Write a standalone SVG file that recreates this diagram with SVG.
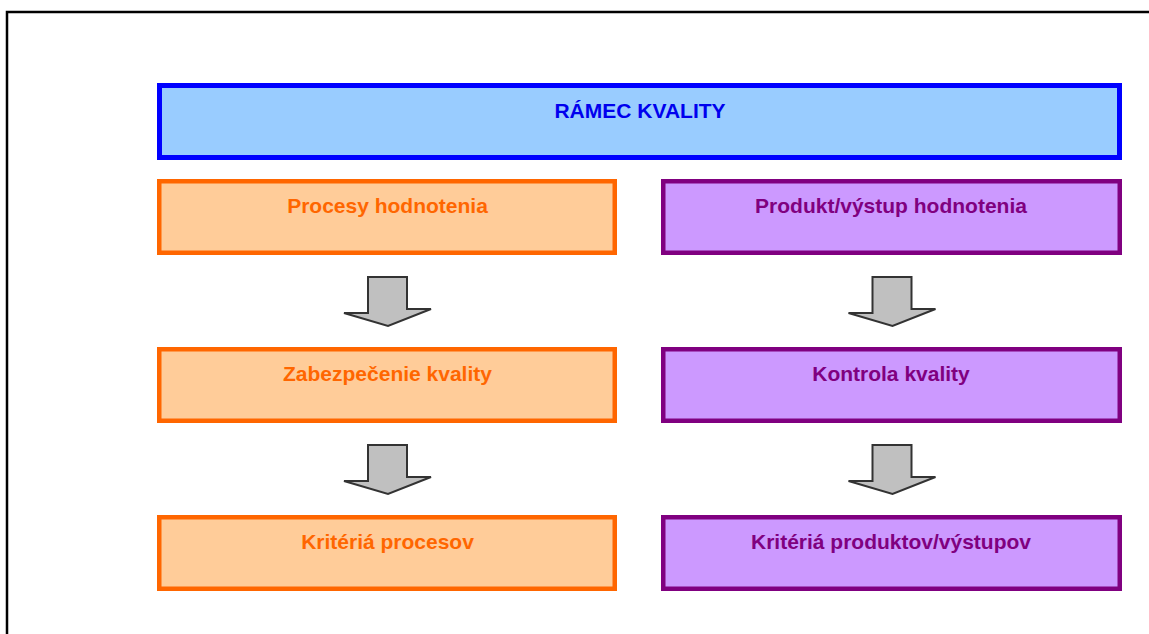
<svg xmlns="http://www.w3.org/2000/svg" width="1149" height="634" viewBox="0 0 1149 634">
  <style>
    .lbl { font-family: "Liberation Sans", Arial, sans-serif; font-weight: bold; font-size: 21px; text-anchor: middle; }
    .frame { fill: none; stroke: #000000; stroke-width: 2.5; }
    .top { fill: #99ccff; stroke: #0000ff; stroke-width: 5; }
    .proc { fill: #ffcc99; stroke: #ff6600; stroke-width: 4.5; }
    .prod { fill: #cc99ff; stroke: #800080; stroke-width: 4.5; }
    .t-top { fill: #0000ee; }
    .t-proc { fill: #ff6600; }
    .t-prod { fill: #800080; }
    .arrow { fill: #c0c0c0; stroke: #333333; stroke-width: 2; stroke-linejoin: miter; }
  </style>
  <defs>
    <!-- block arrow pointing down, origin at the shaft's top centre -->
    <path id="down" class="arrow" d="M-19.5,0 H19.5 V32 H43.5 L0.5,49 L-43.5,36 H-19.5 Z"/>
  </defs>

  <rect width="1149" height="634" fill="#ffffff"/>
  <!-- page frame -->
  <path class="frame" d="M7,634 V12 H1149"/>

  <g id="ramec-kvality">
    <rect class="top" x="159.5" y="85.5" width="960" height="72"/>
    <text class="lbl t-top" x="640" y="118">RÁMEC KVALITY</text>
  </g>

  <g id="procesy-hodnotenia">
    <rect class="proc" x="159.25" y="181.25" width="455.5" height="71.5"/>
    <text class="lbl t-proc" x="387.5" y="212.5">Procesy hodnotenia</text>
  </g>
  <g id="produkt-hodnotenia">
    <rect class="prod" x="663.25" y="181.25" width="456.5" height="71.5"/>
    <text class="lbl t-prod" x="891" y="212.5">Produkt/výstup hodnotenia</text>
  </g>

  <g id="zabezpecenie-kvality">
    <rect class="proc" x="159.25" y="349.25" width="455.5" height="71.5"/>
    <text class="lbl t-proc" x="387.5" y="380.5">Zabezpečenie kvality</text>
  </g>
  <g id="kontrola-kvality">
    <rect class="prod" x="663.25" y="349.25" width="456.5" height="71.5"/>
    <text class="lbl t-prod" x="891" y="380.5">Kontrola kvality</text>
  </g>

  <g id="kriteria-procesov">
    <rect class="proc" x="159.25" y="517.25" width="455.5" height="71.5"/>
    <text class="lbl t-proc" x="387.5" y="548.5">Kritériá procesov</text>
  </g>
  <g id="kriteria-produktov">
    <rect class="prod" x="663.25" y="517.25" width="456.5" height="71.5"/>
    <text class="lbl t-prod" x="891" y="548.5">Kritériá produktov/výstupov</text>
  </g>

  <g id="connectors">
    <use href="#down" x="387.5" y="277"/>
    <use href="#down" x="892" y="277"/>
    <use href="#down" x="387.5" y="445"/>
    <use href="#down" x="892" y="445"/>
  </g>
</svg>
